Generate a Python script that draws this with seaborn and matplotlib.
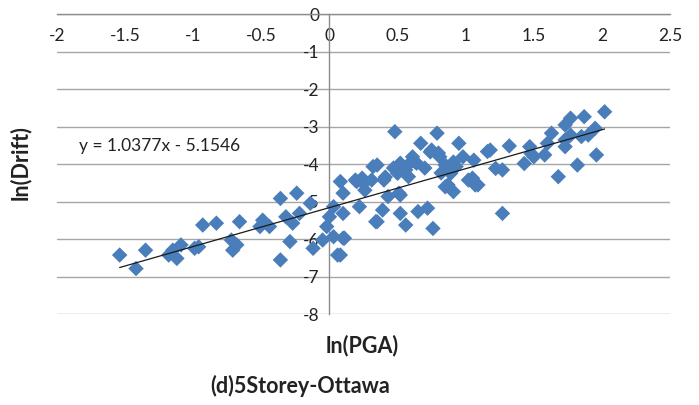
import matplotlib
matplotlib.use("Agg")
import matplotlib.pyplot as plt
import seaborn as sns
import numpy as np
import pandas as pd

# ln(PGA) vs ln(Drift) samples
ln_pga = [
    -1.54, -1.42, -1.35, -1.18, -1.15, -1.12, -1.09, -0.99, -0.96, -0.93,
    -0.83, -0.72, -0.71, -0.68, -0.66, -0.51, -0.49, -0.44, -0.36, -0.36,
    -0.32, -0.29, -0.27, -0.24, -0.22, -0.14, -0.12, -0.05, -0.02, 0.00,
    0.03, 0.03, 0.06, 0.08, 0.08, 0.10, 0.10, 0.10, 0.11, 0.19,
    0.20, 0.22, 0.24, 0.25, 0.26, 0.31, 0.32, 0.34, 0.35, 0.35,
    0.39, 0.40, 0.41, 0.43, 0.47, 0.48, 0.50, 0.51, 0.52, 0.52,
    0.52, 0.56, 0.56, 0.58, 0.59, 0.61, 0.63, 0.64, 0.65, 0.67,
    0.70, 0.72, 0.74, 0.75, 0.76, 0.79, 0.80, 0.81, 0.82, 0.85,
    0.85, 0.87, 0.89, 0.91, 0.91, 0.93, 0.95, 0.98, 1.02, 1.05,
    1.06, 1.07, 1.09, 1.16, 1.18, 1.22, 1.27, 1.27, 1.32, 1.43,
    1.47, 1.48, 1.50, 1.58, 1.60, 1.63, 1.68, 1.73, 1.73, 1.73,
    1.77, 1.77, 1.82, 1.85, 1.87, 1.90, 1.95, 1.96, 2.02,
]
ln_drift = [
    -6.42, -6.78, -6.29, -6.42, -6.29, -6.51, -6.15, -6.24, -6.20, -5.62,
    -5.57, -6.02, -6.29, -6.15, -5.53, -5.66, -5.49, -5.66, -4.91, -6.55,
    -5.40, -6.06, -5.57, -4.77, -5.31, -5.04, -6.24, -6.02, -5.66, -5.40,
    -5.13, -5.93, -6.42, -4.46, -6.42, -4.77, -5.31, -5.97, -5.97, -4.42,
    -4.46, -5.13, -4.37, -4.51, -4.69, -4.42, -4.06, -5.53, -4.02, -5.53,
    -5.22, -4.42, -4.34, -4.86, -4.10, -3.13, -4.24, -4.77, -3.97, -5.31,
    -4.82, -5.62, -4.15, -4.33, -3.97, -3.80, -3.94, -3.97, -5.26, -3.44,
    -4.10, -5.17, -3.67, -3.62, -5.71, -3.17, -3.70, -3.80, -4.23, -4.02,
    -4.60, -4.55, -4.24, -4.73, -3.94, -4.06, -3.44, -3.80, -4.42, -4.37,
    -3.89, -4.55, -4.55, -3.66, -3.62, -4.11, -4.15, -5.31, -3.51, -3.98,
    -3.53, -3.71, -3.80, -3.75, -3.44, -3.17, -4.33, -3.53, -2.95, -3.35,
    -2.77, -3.22, -4.02, -3.26, -2.73, -3.22, -3.04, -3.75, -2.60,
]

# Linear trend reported on the chart
slope = 1.0377
intercept = -5.1546
equation = "y = 1.0377x - 5.1546"

x_ticks = [-2, -1.5, -1, -0.5, 0, 0.5, 1, 1.5, 2, 2.5]
x_tick_labels = ["-2", "-1.5", "-1", "-0.5", "0", "0.5", "1", "1.5", "2", "2.5"]
y_ticks = [0, -1, -2, -3, -4, -5, -6, -7, -8]
y_tick_labels = ["0", "-1", "-2", "-3", "-4", "-5", "-6", "-7", "-8"]

df = pd.DataFrame({"ln(PGA)": ln_pga, "ln(Drift)": ln_drift})
xs = np.array([min(ln_pga), max(ln_pga)])
trend = pd.DataFrame({"x": xs, "y": slope * xs + intercept})

sns.set_theme(style="white")
plt.rcParams["font.family"] = ["Lato", "DejaVu Sans"]
plt.rcParams["axes.unicode_minus"] = False

fig = plt.figure(figsize=(6.99, 4.05), dpi=100)
ax = fig.add_axes([57 / 699, 1 - 314.3 / 405, 613 / 699, 300 / 405])

sns.scatterplot(data=df, x="ln(PGA)", y="ln(Drift)", marker="D", s=62,
                color="#4A7EBB", edgecolor="none", linewidth=0, ax=ax,
                zorder=3)
sns.lineplot(data=trend, x="x", y="y", color="#1a1a1a", linewidth=0.9,
             ax=ax, zorder=4)

ax.set_xlim(-2, 2.5)
ax.set_ylim(-8, 0)
ax.set_xticks(x_ticks)
ax.set_xticklabels(x_tick_labels)
ax.set_yticks(y_ticks)
ax.set_yticklabels(y_tick_labels)

ax.yaxis.grid(True, color="#a6a6a6", linewidth=1.0, zorder=0)
ax.xaxis.grid(False)
ax.set_axisbelow(True)

for side in ("top", "right"):
    ax.spines[side].set_visible(False)
ax.spines["left"].set_position(("data", 0))
ax.spines["bottom"].set_position(("data", 0))
for side in ("left", "bottom"):
    ax.spines[side].set_color("#8c8c8c")
    ax.spines[side].set_linewidth(1.0)
    ax.spines[side].set_zorder(1)

ax.tick_params(axis="both", direction="out", length=5, width=1,
               color="#8c8c8c", labelsize=12.5, labelcolor="#222222")
ax.tick_params(axis="x", pad=5)
ax.tick_params(axis="y", pad=2)

ax.set_xlabel("")
ax.set_ylabel("")
fig.text(20 / 699, 1 - 163 / 405, "ln(Drift)", rotation=90, ha="center",
         va="center", fontsize=15.5, fontweight="bold", color="#222222")
fig.text(362 / 699, 1 - 346 / 405, "ln(PGA)", ha="center", va="center",
         fontsize=15.5, fontweight="bold", color="#222222")
fig.text(300 / 699, 1 - 386 / 405, "(d)5Storey-Ottawa", ha="center",
         va="center", fontsize=15.5, fontweight="bold", color="#222222")

ax.text(-1.84, -3.51, equation, ha="left", va="center", fontsize=12.5,
        color="#222222")

fig.savefig("out.png", dpi=100)
